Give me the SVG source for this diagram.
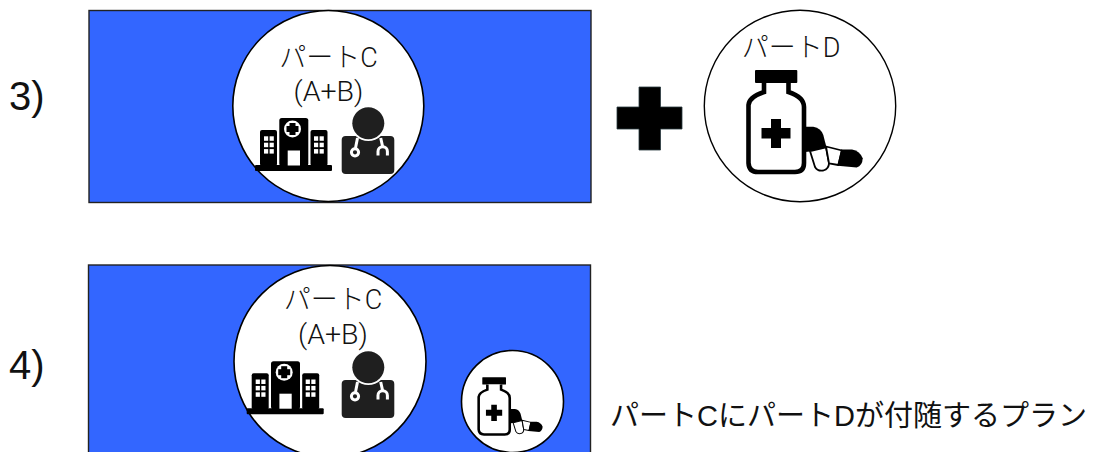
<svg xmlns="http://www.w3.org/2000/svg" width="1095" height="452" viewBox="0 0 1095 452">
<style>
text{font-family:"Roboto","Liberation Sans","Noto Sans CJK JP",sans-serif;fill:#111}
.lab{font-size:27px;text-anchor:middle;font-weight:300}
.sub{font-size:28.500px;text-anchor:middle;font-weight:300}
.num{font-family:"Liberation Sans",sans-serif;font-size:40px}
.cap{font-family:"Liberation Sans","Noto Sans CJK JP",sans-serif;font-size:29px;fill:#111}
.band{fill:#3366ff;stroke:#222;stroke-width:1.4}
.disc{fill:#fff;stroke:#000;stroke-width:1.600}
.win{fill:#fff}
.st{fill:none;stroke:#fff;stroke-width:3}
</style>
<defs>
<g id="win2">
<rect class="win" x="0" y="0" width="4.200" height="4.500"/><rect class="win" x="5.600" y="0" width="4.200" height="4.500"/>
<rect class="win" x="0" y="6.400" width="4.200" height="4.500"/><rect class="win" x="5.600" y="6.400" width="4.200" height="4.500"/>
<rect class="win" x="0" y="12.800" width="4.200" height="4.500"/><rect class="win" x="5.600" y="12.800" width="4.200" height="4.500"/>
</g>
<g id="hospital">
<rect x="255" y="165" width="77" height="6" rx="1" fill="#000"/>
<rect x="279.300" y="118" width="29" height="48" rx="2.500" fill="#000"/>
<rect x="260" y="130" width="17" height="36" rx="2" fill="#000"/>
<rect x="310.500" y="130" width="17" height="36" rx="2" fill="#000"/>
<circle cx="292.500" cy="129" r="8.500" fill="#fff"/>
<rect x="289.500" y="123" width="6" height="12" fill="#000"/>
<rect x="286.500" y="126" width="12" height="6" fill="#000"/>
<rect x="287.700" y="150.500" width="12.300" height="15" fill="#fff"/>
<use href="#win2" x="264" y="136.300"/>
<use href="#win2" x="314" y="136.300"/>
</g>
<g id="doctor">
<rect x="341.700" y="136" width="52.600" height="38" rx="4" fill="#1f1f1f"/>
<circle cx="368.300" cy="123.300" r="17.800" fill="#fff"/>
<circle cx="368.300" cy="123.300" r="16" fill="#1f1f1f"/>
<path class="st" d="M357.500 138L355.500 148M380.700 138L382.700 147"/>
<circle class="st" cx="355" cy="152.300" r="3.600"/>
<path class="st" d="M378 155.500V151.500a4.700 4.700 0 0 1 9.400 0V155.500"/>
</g>
<g id="bottle">
<rect x="755" y="70" width="42.300" height="13" rx="1" fill="#000"/>
<path d="M764 83V92Q749 97 748.500 105V163Q749 172 758 172H795Q804 172 804 163V107Q804 97 788.500 92V83" fill="#fff" stroke="#000" stroke-width="4.600"/>
<path d="M771 119h10v9h9.500v10.500h-9.500v9.500h-10v-9.500h-9.500v-10.500h9.500z" fill="#000"/>
<path d="M805 126.700H813.300Q821 128 823.300 135L826.500 147.500L810 151.500L805 152Z" fill="#000"/>
<path d="M810 151L826 147.300L829 163Q829 169 823.300 170.500Q817.500 171.500 815 167Z" fill="#fff" stroke="#000" stroke-width="1.800" stroke-linejoin="round"/>
<path d="M826 146.500L842 150.500L838.300 165L829 163.300Z" fill="#fff" stroke="#000" stroke-width="1.800" stroke-linejoin="round"/>
<path d="M841 149.500H852Q860 151 862.700 158.300Q862.500 165.500 856.700 167.500L837.500 165.700Z" fill="#000"/>
</g>
</defs>

<text class="num" x="9" y="110">3)</text>
<text class="num" x="9" y="379">4)</text>

<g id="plan-3-band"><rect class="band" x="89" y="10.500" width="502" height="192"/></g>
<g id="part-c-upper">
<circle class="disc" cx="328.300" cy="106" r="95.500"/>
<text class="lab" x="328.500" y="67">パートC</text>
<text class="sub" x="328.500" y="101">(A+B)</text>
<use href="#hospital"/>
<use href="#doctor"/>
</g>
<g id="plus"><path d="M639 87h21.500v20h21.500v22h-21.500v21h-21.500v-21h-22v-22h22z" fill="#000" stroke="#2a3a40" stroke-width=".8"/></g>
<g id="part-d">
<circle cx="800" cy="106" r="95.700" fill="#fff" stroke="#000" stroke-width="1.400"/>
<text class="lab" x="791" y="57">パートD</text>
<use href="#bottle"/>
</g>

<g id="plan-4-band"><rect class="band" x="88.500" y="265" width="502" height="200"/></g>
<g id="part-c-lower">
<circle class="disc" cx="330" cy="361.500" r="96"/>
<text class="lab" x="333" y="309">パートC</text>
<text class="sub" x="333" y="344">(A+B)</text>
<use href="#hospital" transform="translate(-8.300 243.200)"/>
<use href="#doctor" transform="translate(0 244)"/>
</g>
<g id="part-d-small">
<circle class="disc" cx="512.500" cy="401.500" r="51"/>
<use href="#bottle" transform="translate(59.500 338.100) scale(.56)"/>
</g>
<g id="caption"><text class="cap" x="610" y="426">パートCにパートDが付随するプラン</text></g>
<g id="connectors"></g>
</svg>
